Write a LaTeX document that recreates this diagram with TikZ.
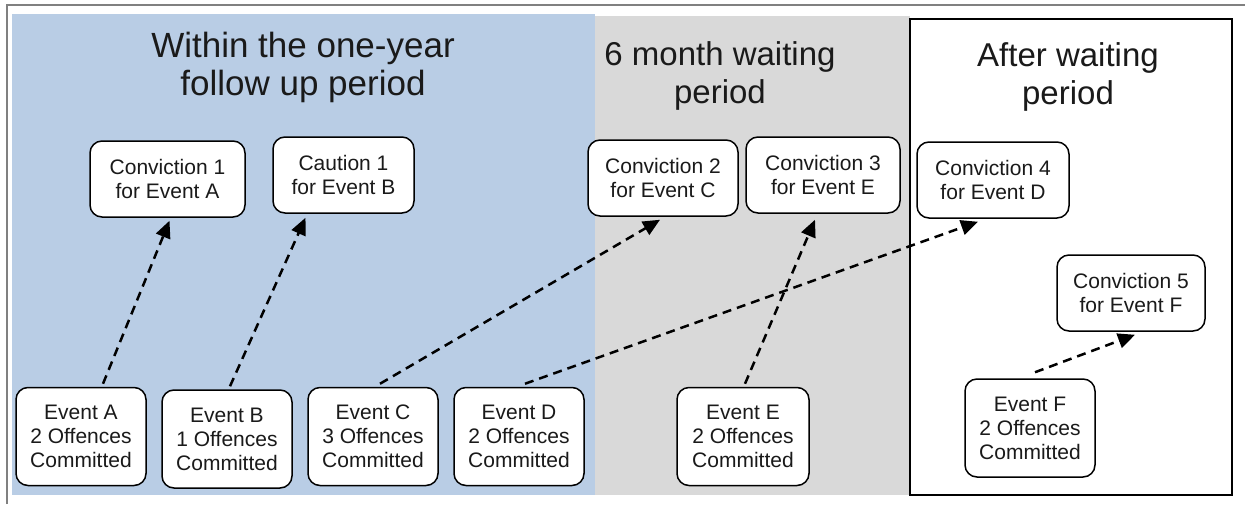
\documentclass[tikz,border=0pt]{standalone}
\usepackage{fontspec}
\setmainfont{Liberation Sans}
\usetikzlibrary{arrows.meta}
\definecolor{panelblue}{HTML}{B9CDE5}
\definecolor{panelgrey}{HTML}{D9D9D9}
\definecolor{txt}{HTML}{1A1A1A}
\tikzset{
  box/.style={draw=black, line width=1.5pt, rounded corners=12pt, fill=white, align=center,
    text=txt, inner sep=0pt, font=\fontsize{21}{24}\selectfont},
  evbox/.style={box, minimum width=130pt, minimum height=98pt},
  cvbox/.style={box, minimum height=76pt},
  title/.style={align=center, text=txt, font=\fontsize{33}{38}\selectfont},
  link/.style={line width=2.5pt, dash pattern=on 9pt off 6pt, -{Triangle[length=17pt,width=15pt]}}
}
\begin{document}
\begin{tikzpicture}[x=1pt,y=-1pt]
\useasboundingbox (0,0) rectangle (1245,504);
% panels
\fill[white] (0,0) rectangle (1245,504);
\fill[panelblue] (12,14) rectangle (595,495);
\fill[panelgrey] (595,16) rectangle (910,495);
\draw[black, line width=1.5pt] (910,19) rectangle (1232,495);
\draw[gray, line width=1.5pt] (7,504) -- (7,5) -- (1245,5);
% titles
\node[title, font=\fontsize{35}{38}\selectfont] (t1) at (303,67) {Within the one-year\\follow up period};
\node[title] (t2) at (720,76) {6 month waiting\\period};
\node[title] (t3) at (1068,77) {After waiting\\period};
% outcome boxes
\node[cvbox, minimum width=155pt] (c1) at (167.5,179) {Conviction 1\\for Event A};
\node[cvbox, minimum width=141pt] (k1) at (343.5,175) {Caution 1\\for Event B};
\node[cvbox, minimum width=150pt] (c2) at (663,178) {Conviction 2\\for Event C};
\node[cvbox, minimum width=154pt] (c3) at (823,175) {Conviction 3\\for Event E};
\node[cvbox, minimum width=152pt] (c4) at (993,180) {Conviction 4\\for Event D};
\node[cvbox, minimum width=148pt] (c5) at (1131,293) {Conviction 5\\for Event F};
% event boxes
\node[evbox] (ea) at (81,436.5) {Event A\\2 Offences\\Committed};
\node[evbox] (eb) at (227,439) {Event B\\1 Offences\\Committed};
\node[evbox] (ec) at (373,436.5) {Event C\\3 Offences\\Committed};
\node[evbox] (ed) at (519,436.5) {Event D\\2 Offences\\Committed};
\node[evbox, minimum width=132pt] (ee) at (743,436.5) {Event E\\2 Offences\\Committed};
\node[evbox] (ef) at (1030,428) {Event F\\2 Offences\\Committed};
% connectors
\draw[link] ([xshift=22pt,yshift=3pt]ea.north) -- ([xshift=2pt,yshift=-3pt]c1.south);
\draw[link] ([xshift=3pt,yshift=3pt]eb.north) -- ([xshift=-38pt,yshift=-4pt]k1.south);
\draw[link] ([xshift=7pt,yshift=3pt]ec.north) -- ([xshift=-3pt,yshift=-3pt]c2.south);
\draw[link] ([xshift=6pt,yshift=3pt]ed.north) -- ([xshift=-15pt,yshift=-3pt]c4.south);
\draw[link] ([xshift=2pt,yshift=3pt]ee.north) -- ([xshift=-8pt,yshift=-6pt]c3.south);
\draw[link] ([xshift=5pt,yshift=6pt]ef.north) -- ([xshift=4pt,yshift=-3pt]c5.south);
\end{tikzpicture}
\end{document}
